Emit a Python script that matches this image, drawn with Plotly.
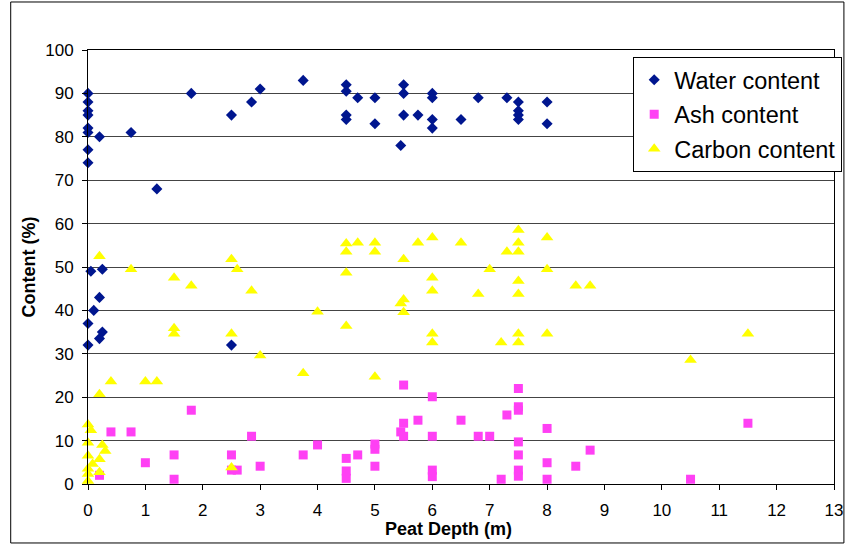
import plotly.graph_objects as go

# ---- Data ----
water_x = [0, 0, 0, 0, 0, 0, 0, 0, 0.2, 0.75, 1.2, 1.8, 2.5, 2.85, 3, 3.75,
           4.5, 4.5, 4.5, 4.5, 4.7, 5, 5, 5.45, 5.5, 5.5, 5.5, 5.75, 6, 6, 6, 6,
           6.5, 6.8, 7.3, 7.5, 7.5, 7.5, 7.5, 8, 8,
           0.05, 0.25, 0.2, 0.1, 0, 0.25, 0.2, 0, 2.5]
water_y = [90, 88, 86, 85, 82, 81, 77, 74, 80, 81, 68, 90, 85, 88, 91, 93,
           92, 90.5, 85, 84, 89, 89, 83, 78, 92, 90, 85, 85, 90, 89, 84, 82,
           84, 89, 89, 88, 86, 85, 84, 88, 83,
           49, 49.5, 43, 40, 37, 35, 33.5, 32, 32]

ash_x = [0.4, 0.75, 1.8, 1, 1.5, 1.5, 0.2,
         2.85, 2.5, 2.5, 2.6, 3, 3.75, 4, 4.5, 4.5, 4.5, 4.7, 5, 5, 5,
         5.5, 5.5, 5.45, 5.5, 5.75, 6, 6, 6, 6, 6.5, 6.8, 7, 7.2, 7.3,
         7.5, 7.5, 7.5, 7.5, 7.5, 7.5, 7.5, 8, 8, 8, 8.5, 8.75, 10.5, 11.5]
ash_y = [12, 12, 17, 4.9, 6.7, 1.1, 2,
         11, 6.7, 3.2, 3.2, 4.1, 6.7, 9, 5.9, 3, 1.3, 6.7, 9.2, 8, 4.1,
         22.8, 14, 12, 11, 14.7, 20.1, 11, 3.2, 1.7, 14.7, 11, 11, 1.1, 15.9,
         22, 17.8, 17, 9.7, 6.7, 3.2, 1.8, 12.8, 4.9, 1.1, 4.1, 7.8, 1.1, 14]

carbon_x = [0.2, 0.75, 1.5, 1.8, 1.5, 1.5, 0.4, 1, 1.2, 0.2,
            0, 0.05, 0, 0.25, 0.3, 0, 0.2, 0.08, 0, 0.2, 0, 0,
            2.5, 2.6, 2.85, 4, 4.5, 4.5, 4.7, 5, 5, 4.5, 5.5, 5.45, 5.5, 5.5,
            4.5, 2.5, 3, 3.75, 5, 2.5,
            5.75, 6, 6.5, 7.5, 7.5, 7.5, 7.3, 8, 7, 8, 6, 6, 6.8, 7.5, 7.5,
            8.5, 8.75, 6, 6, 7.2, 7.5, 7.5, 8, 10.5, 11.5]
carbon_y = [52.5, 49.5, 47.5, 45.7, 35.9, 34.6, 23.6, 23.6, 23.6, 20.7,
            13.7, 12.4, 9.5, 9, 7.6, 6.5, 5.7, 4.6, 3.5, 2.7, 2.3, 0.7,
            51.8, 49.5, 44.5, 39.7, 55.4, 53.5, 55.6, 55.6, 53.5, 48.7, 51.8, 41.6, 42.5, 39.6,
            36.4, 34.6, 29.6, 25.5, 24.7, 3.8,
            55.6, 56.8, 55.6, 58.5, 55.6, 53.5, 53.5, 56.8, 49.5, 49.5, 47.5, 44.5, 43.8, 46.8, 43.8,
            45.7, 45.7, 34.6, 32.6, 32.6, 34.6, 32.6, 34.6, 28.6, 34.6]

x_ticks = list(range(0, 14))
y_ticks = list(range(0, 101, 10))

FONT = "Liberation Sans, Arial, sans-serif"

fig = go.Figure()
fig.add_trace(go.Scatter(x=water_x, y=water_y, mode="markers", name="Water content",
                         legendgroup="w", cliponaxis=False,
                         marker=dict(symbol="diamond", size=8.5, color="#00168F")))
fig.add_trace(go.Scatter(x=ash_x, y=ash_y, mode="markers", name="Ash content",
                         legendgroup="a", cliponaxis=False,
                         marker=dict(symbol="square", size=9, color="#FF40F4")))
fig.add_trace(go.Scatter(x=carbon_x, y=carbon_y, mode="markers", name="Carbon content",
                         legendgroup="c", cliponaxis=False,
                         marker=dict(symbol="triangle-up", size=11, color="#FFFF00")))

fig.update_layout(
    width=854, height=545,
    margin=dict(l=88, r=13, t=50, b=61),
    paper_bgcolor="white", plot_bgcolor="white",
    font=dict(family=FONT, size=17, color="black"),
    showlegend=True,
    legend=dict(x=1.011, y=0.984, xanchor="right", yanchor="top",
                bgcolor="white", bordercolor="black", borderwidth=1,
                font=dict(family=FONT, size=23.5, color="black"),
                tracegroupgap=1, itemwidth=30),
    xaxis=dict(range=[0, 13], tickvals=x_ticks, ticktext=[str(v) for v in x_ticks],
               showgrid=False, zeroline=False, showline=True, linecolor="black",
               linewidth=1, mirror=True, ticks="outside", ticklen=5, tickcolor="black",
               ticklabelstandoff=6, tickfont=dict(size=17)),
    yaxis=dict(range=[0, 100], tickvals=y_ticks, ticktext=[str(v) for v in y_ticks],
               showgrid=True, gridcolor="#444444", gridwidth=1,
               zeroline=False, showline=True, linecolor="black", linewidth=1, mirror=True,
               ticks="outside", ticklen=5, tickcolor="black", ticklabelstandoff=5,
               tickfont=dict(size=17),
               title=dict(text="<b>Content (%)</b>", font=dict(size=18), standoff=4)),
    annotations=[dict(text="<b>Peat Depth (m)</b>", xref="paper", yref="paper",
                      x=0.483, y=-0.104, xanchor="center", yanchor="middle",
                      showarrow=False, font=dict(size=18, family=FONT))],
    shapes=[dict(type="rect", xref="paper", yref="paper",
                 x0=-0.1036, x1=1.0133, y0=-0.1359, y1=1.1106,
                 line=dict(color="black", width=1), fillcolor="rgba(0,0,0,0)")],
)

fig.write_html("out.html")
